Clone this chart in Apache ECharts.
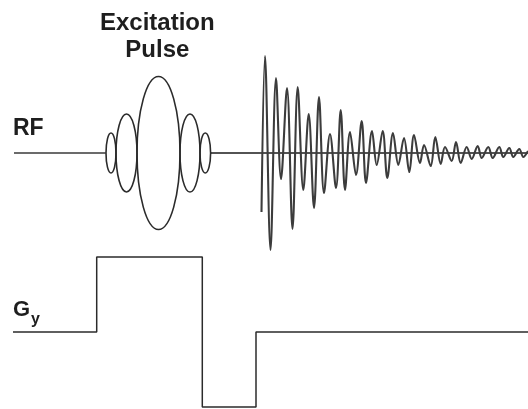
<!DOCTYPE html>
<html>
<head>
<meta charset="utf-8">
<script src="https://cdn.jsdelivr.net/npm/echarts@6/dist/echarts.min.js"></script>
<style>
  html, body { margin: 0; padding: 0; background: #fff; }
  #chart { width: 528px; height: 409px; }
</style>
</head>
<body>
<div id="chart"></div>
<script>
// Time axis runs left to right; each channel has its own amplitude axis (0 = baseline).

// RF channel: baseline segments (time) either side of the excitation pulse
const rfBaselineBefore = [[14, 0], [106, 0]];
const rfBaselineAfter = [[211, 0], [528, 0]];

// Sinc-shaped excitation pulse drawn as lobes: [centre time, half duration, peak amplitude]
const pulseLobes = [
  [111, 5, 20],
  [126.5, 10.5, 39],
  [158.5, 21.5, 76.5],
  [190, 10, 39],
  [205.3, 5.3, 20]
];

// Free induction decay: [time, amplitude] at successive extremes
const fidSignal = [
  [261.5, -59], [265, 97], [270.5, -97], [276, 75], [281, -26], [287, 65],
  [292.5, -76], [297.7, 66], [303.3, -37], [308.7, 39], [314, -55], [319, 56],
  [324, -40], [330, 19], [336, -35], [340.7, 43], [345, -37], [350, 21],
  [356, -22], [361.7, 32], [366, -30], [372, 22], [376.7, -12], [382.7, 22],
  [387.3, -25], [393, 20], [398.3, -12], [404, 15], [409.3, -19], [414, 18],
  [420, -10], [424, 8], [430.7, -13], [435.3, 16], [440.7, -11], [445, 6],
  [451.7, -8], [456, 11], [460.7, -10], [466.7, 6], [471.7, -6], [477.7, 7],
  [481.7, -5], [488.3, 6], [492.7, -5], [499.3, 6], [503.3, -4], [509.3, 5],
  [513.3, -4], [519.3, 4], [523.3, -4], [528, 2]
];

// Phase-encoding gradient G_y: [time, amplitude]
const gyWaveform = [
  [13, 0], [96.7, 0], [96.7, 75], [202.3, 75], [202.3, -75],
  [256, -75], [256, 0], [528, 0]
];

const ink = '#2b2b2b';
const font = '"Liberation Sans", Arial, sans-serif';

function lobeItem(params, api) {
  const c = api.coord([api.value(0), 0]);
  const s = api.size([api.value(1), api.value(2)]);
  const rx = s[0], ry = s[1];
  const cx = c[0], cy = c[1];
  return {
    type: 'path',
    shape: {
      pathData: `M ${cx - rx} ${cy} A ${rx} ${ry} 0 1 0 ${cx + rx} ${cy} A ${rx} ${ry} 0 1 0 ${cx - rx} ${cy} Z`
    },
    style: { fill: 'none', stroke: ink, lineWidth: 1.6 }
  };
}

const chart = echarts.init(document.getElementById('chart'), null, { renderer: 'canvas' });

const hiddenAxis = { show: false };

chart.setOption({
  animation: false,
  backgroundColor: '#ffffff',
  grid: [
    { left: 0, right: 0, top: 0, height: 306 },
    { left: 0, right: 0, top: 232, height: 177 }
  ],
  xAxis: [
    Object.assign({ type: 'value', min: 0, max: 528, gridIndex: 0 }, hiddenAxis),
    Object.assign({ type: 'value', min: 0, max: 528, gridIndex: 1 }, hiddenAxis)
  ],
  yAxis: [
    Object.assign({ type: 'value', min: -153, max: 153, gridIndex: 0 }, hiddenAxis),
    Object.assign({ type: 'value', min: -77, max: 100, gridIndex: 1 }, hiddenAxis)
  ],
  graphic: [
    {
      type: 'text', left: 100, top: 10,
      style: {
        text: 'Excitation\nPulse', x: 60, textAlign: 'center',
        font: 'bold 24px ' + font, lineHeight: 27, fill: '#1e1e1e'
      }
    },
    {
      type: 'text', left: 13, top: 117,
      style: { text: 'RF', font: 'bold 23px ' + font, fill: '#1e1e1e' }
    },
    {
      type: 'text', left: 13, top: 299,
      style: {
        text: '{g|G}{s|y}',
        rich: {
          g: { font: 'bold 22px ' + font, fill: '#1e1e1e', verticalAlign: 'top' },
          s: { font: 'bold 16px ' + font, fill: '#1e1e1e', padding: [13, 0, 0, 1], verticalAlign: 'top' }
        }
      }
    }
  ],
  series: [
    {
      type: 'line', xAxisIndex: 0, yAxisIndex: 0, data: rfBaselineBefore,
      symbol: 'none', lineStyle: { color: '#3a3a3a', width: 1.3 }
    },
    {
      type: 'line', xAxisIndex: 0, yAxisIndex: 0, data: rfBaselineAfter,
      symbol: 'none', lineStyle: { color: '#1a1a1a', width: 1.6 }
    },
    {
      type: 'custom', xAxisIndex: 0, yAxisIndex: 0, data: pulseLobes,
      renderItem: lobeItem, clip: false
    },
    {
      type: 'line', xAxisIndex: 0, yAxisIndex: 0, data: fidSignal,
      symbol: 'none', smooth: 0.35,
      lineStyle: { color: '#3c3c3c', width: 2.1 }
    },
    {
      type: 'line', xAxisIndex: 1, yAxisIndex: 1, data: gyWaveform,
      symbol: 'none', lineStyle: { color: ink, width: 1.5 }
    }
  ]
});
</script>
</body>
</html>
